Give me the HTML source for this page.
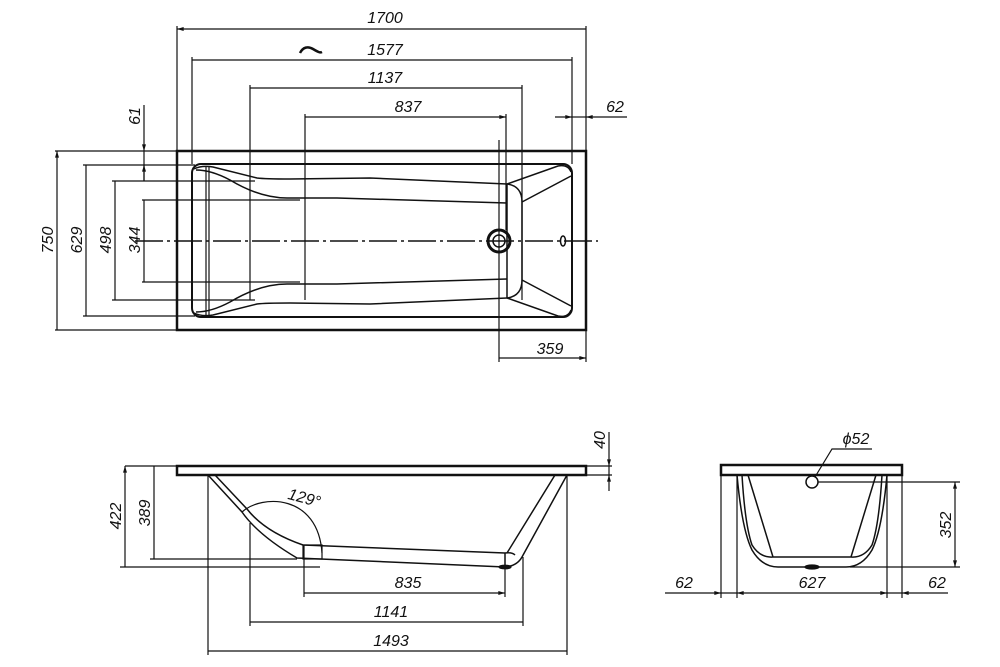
<!DOCTYPE html>
<html><head><meta charset="utf-8"><style>
html,body{margin:0;padding:0;background:#fff}
svg{display:block}
text{font-family:"Liberation Sans",sans-serif;font-style:italic;font-size:16px;fill:#111}
</style></head><body>
<svg width="1000" height="667" viewBox="0 0 1000 667" xmlns="http://www.w3.org/2000/svg">
<defs>
<marker id="a" viewBox="0 0 10 6" refX="10" refY="3" markerWidth="7" markerHeight="4" orient="auto-start-reverse" markerUnits="userSpaceOnUse"><path d="M0,0L10,3L0,6z" fill="#111"/></marker>
</defs>
<g stroke="#111" fill="none" stroke-width="1.2">
<path d="M177,26V151M586,26V151M192,57V164M572,57V164M250,85V300M522,85V300M305,114V300M506,114V230M499,140V362M586,331V362"/>
<path d="M55,151H177M55,330H177M83,165H195M83,316H195M112,181H255M112,300H255M142,200H300M142,282H300"/>
<path d="M177,29H586M192,60H572M250,88H522M305,117H506" marker-start="url(#a)" marker-end="url(#a)"/>
<path d="M57,151V330M86,165V316M115,181V300M144,200V282M499,358H586" marker-start="url(#a)" marker-end="url(#a)"/>
<path d="M144,105V151" marker-end="url(#a)"/><path d="M144,181V165" marker-end="url(#a)"/><path d="M144,151V181"/>
<path d="M555,117H572" marker-end="url(#a)"/><path d="M627,117H586" marker-end="url(#a)"/><path d="M572,117H586"/>
<path d="M300,53C303,47 308,46 313,49S320,53 322,52" stroke-width="2.5"/>
<rect x="177" y="151" width="409" height="179" stroke-width="2.5"/>
<rect x="192" y="164" width="380" height="153" rx="9" stroke-width="2"/>
<path d="M206,166V316M209,166V316"/>
<path d="M194,169C200,166 207,166 213,167L257,178C265,179 280,179 290,179L370,178L507,184M196,170C205,170 215,172 230,180C250,192 270,198 287,198L337,198L507,203" stroke-width="1.5"/>
<path d="M194,313C200,316 207,316 213,315L257,304C265,303 280,303 290,303L370,304L507,298M196,312C205,312 215,310 230,302C250,290 270,284 287,284L337,284L507,279" stroke-width="1.5"/>
<path d="M507,184V298M507,184Q522,186 522,202V280Q522,296 507,298M507,184L558,166Q568,164 571,172M522,202L571,176M507,298L558,316Q568,318 571,310M522,280L571,306" stroke-width="1.5"/>
<path d="M135,241H598" stroke-dasharray="28,4,3,4" stroke-width="1.5"/>
<circle cx="499" cy="241" r="11" stroke-width="3"/><circle cx="499" cy="241" r="6" stroke-width="1.5"/>
<ellipse cx="563" cy="241" rx="2.5" ry="5" stroke-width="1.5"/>
<rect x="177" y="466" width="409" height="9" stroke-width="2.5"/>
<path d="M208,475L242,512Q258,535 297,558L505,567M215,475L247,509Q265,532 303,545L505,553M505,553V567Q517,566 522,557L567,475M505,553Q512,552 515,555M507,553L555,475" stroke-width="1.5"/>
<path d="M303,545H322V559H303z"/>
<ellipse cx="505" cy="567" rx="6" ry="1.8" fill="#111"/>
<path d="M242,512C262,494 318,494 322,553"/>
<path d="M586,466H612M586,475H612M125,466H177M154,466H177M150,559H297M120,567H320"/>
<path d="M208,475V655M567,475V655M250,523V626M523,557V626M304,545V597M505,567V597"/>
<path d="M125,466V567M154,466V559M208,651H567M250,622H523M304,593H505" marker-start="url(#a)" marker-end="url(#a)"/>
<path d="M609,432V466" marker-end="url(#a)"/><path d="M609,491V475" marker-end="url(#a)"/><path d="M609,466V475"/>
<rect x="721" y="465" width="181" height="10" stroke-width="2.5"/>
<path d="M737,475Q742,530 752,550Q762,567 778,567H846Q862,567 872,550Q882,530 887,475" stroke-width="1.5"/>
<path d="M742,475Q745,525 752,545Q760,558 773,557M748,475L773,557M773,557H851M876,475L851,557M882,475Q879,525 872,545Q864,558 851,557" stroke-width="1.5"/>
<ellipse cx="812" cy="567" rx="7" ry="2" fill="#111"/>
<circle cx="812" cy="482" r="6" stroke-width="1.5"/>
<path d="M815,477L832,449H872"/>
<path d="M721,475V598M737,475V598M887,475V598M902,475V598M818,482H960M850,567H960"/>
<path d="M955,482V567" marker-start="url(#a)" marker-end="url(#a)"/>
<path d="M665,593H721" marker-end="url(#a)"/><path d="M948,593H902" marker-end="url(#a)"/>
<path d="M737,593H887" marker-start="url(#a)" marker-end="url(#a)"/><path d="M721,593H737M887,593H902"/>
</g>
<text x="385" y="23" text-anchor="middle">1700</text>
<text x="385" y="55" text-anchor="middle">1577</text>
<text x="385" y="83" text-anchor="middle">1137</text>
<text x="408" y="112" text-anchor="middle">837</text>
<text x="615" y="112" text-anchor="middle">62</text>
<text x="550" y="354" text-anchor="middle">359</text>
<text transform="translate(53,240) rotate(-90)" text-anchor="middle">750</text>
<text transform="translate(82,240) rotate(-90)" text-anchor="middle">629</text>
<text transform="translate(111,240) rotate(-90)" text-anchor="middle">498</text>
<text transform="translate(140,240) rotate(-90)" text-anchor="middle">344</text>
<text transform="translate(140,116) rotate(-90)" text-anchor="middle">61</text>
<text transform="translate(605,440) rotate(-90)" text-anchor="middle">40</text>
<text transform="translate(121,516) rotate(-90)" text-anchor="middle">422</text>
<text transform="translate(150,513) rotate(-90)" text-anchor="middle">389</text>
<text transform="translate(303,503) rotate(15)" text-anchor="middle">129°</text>
<text x="408" y="588" text-anchor="middle">835</text>
<text x="391" y="617" text-anchor="middle">1141</text>
<text x="391" y="646" text-anchor="middle">1493</text>
<text x="856" y="444" text-anchor="middle">ϕ52</text>
<text transform="translate(951,525) rotate(-90)" text-anchor="middle">352</text>
<text x="684" y="588" text-anchor="middle">62</text>
<text x="812" y="588" text-anchor="middle">627</text>
<text x="937" y="588" text-anchor="middle">62</text>
</svg>
</body></html>
